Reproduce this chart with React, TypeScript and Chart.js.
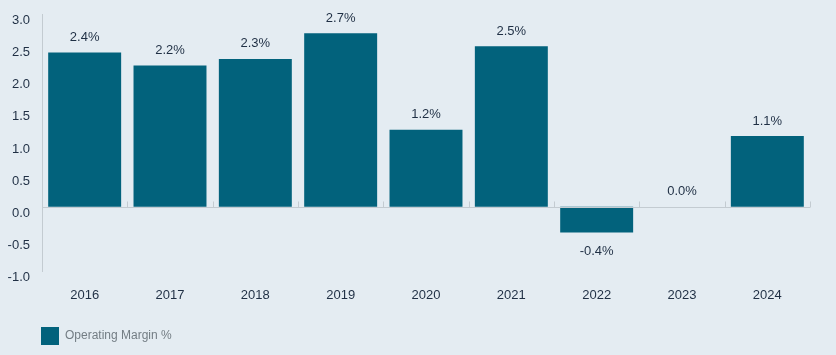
import React, { useEffect, useRef } from "react";
import { Chart, registerables } from "chart.js";

Chart.register(...registerables);

const categories = ["2016", "2017", "2018", "2019", "2020", "2021", "2022", "2023", "2024"];
const operatingMargin = [2.4, 2.2, 2.3, 2.7, 1.2, 2.5, -0.4, 0.0, 1.1];
const valueLabels = ["2.4%", "2.2%", "2.3%", "2.7%", "1.2%", "2.5%", "-0.4%", "0.0%", "1.1%"];
const seriesName = "Operating Margin %";
const yMin = -1;
const yMax = 3;
const yStep = 0.5;

const BG = "#e4ecf2";
const BAR = "#02627c";
const TEXT = "#1f2f44";
const AXIS = "#c3cbd1";
const FONT = "'Liberation Sans', Arial, sans-serif";

const bgPlugin = {
  id: "bg",
  beforeDraw(chart: any) {
    const { ctx, width, height } = chart;
    ctx.save();
    ctx.fillStyle = BG;
    ctx.fillRect(0, 0, width, height);
    ctx.restore();
  },
};

const zeroLinePlugin = {
  id: "zeroLine",
  afterDatasetsDraw(chart: any) {
    const { ctx, chartArea, scales } = chart;
    const y = Math.round(scales.y.getPixelForValue(0)) + 0.5;
    ctx.save();
    ctx.strokeStyle = AXIS;
    ctx.lineWidth = 1;
    ctx.beginPath();
    ctx.moveTo(chartArea.left, y);
    ctx.lineTo(chartArea.right, y);
    const n = categories.length;
    for (let i = 1; i <= n; i++) {
      const x = Math.round(chartArea.left + ((chartArea.right - chartArea.left) * i) / n) + 0.5;
      ctx.moveTo(x, y);
      ctx.lineTo(x, y - 6);
    }
    ctx.stroke();
    ctx.restore();
  },
};

const labelPlugin = {
  id: "valueLabels",
  afterDatasetsDraw(chart: any) {
    const { ctx } = chart;
    const meta = chart.getDatasetMeta(0);
    ctx.save();
    ctx.fillStyle = TEXT;
    ctx.font = `13px ${FONT}`;
    ctx.textAlign = "center";
    ctx.textBaseline = "alphabetic";
    meta.data.forEach((bar: any, i: number) => {
      const v = operatingMargin[i];
      if (v < 0) {
        ctx.fillText(valueLabels[i], bar.x, bar.y + 22.5);
      } else {
        ctx.fillText(valueLabels[i], bar.x, bar.y - 11.5);
      }
    });
    ctx.restore();
  },
};

export default function App() {
  const ref = useRef<HTMLCanvasElement>(null);
  useEffect(() => {
    document.body.style.margin = "0";
    document.body.style.background = BG;
    const chart = new Chart(ref.current!, {
      type: "bar",
      data: {
        labels: categories,
        datasets: [
          {
            label: seriesName,
            data: operatingMargin,
            backgroundColor: BAR,
            borderWidth: 0,
            barPercentage: 0.855,
            categoryPercentage: 1,
          },
        ],
      },
      options: {
        responsive: false,
        animation: false,
        layout: { padding: { left: 8, right: 26, top: 14, bottom: 0 } },
        plugins: {
          tooltip: { enabled: false },
          legend: {
            position: "bottom",
            align: "start",
            labels: {
              boxWidth: 18,
              boxHeight: 18,
              padding: 33,
              color: "#737d84",
              font: { family: FONT, size: 12 },
            },
          },
        },
        scales: {
          x: {
            grid: { display: false, drawTicks: false },
            border: { display: false },
            ticks: {
              color: TEXT,
              font: { family: FONT, size: 13 },
              padding: -32.5,
              mirror: true,
            },
            afterFit: (scale: any) => {
              scale.height = 23;
              scale.paddingLeft = 0;
              scale.paddingRight = 0;
            },
          },
          y: {
            min: yMin,
            max: yMax,
            grid: { display: false, drawTicks: false },
            border: { display: true, color: AXIS, width: 1 },
            ticks: {
              stepSize: yStep,
              color: TEXT,
              font: { family: FONT, size: 13 },
              padding: 12,
              labelOffset: 6.5,
              callback: (v: any) => Number(v).toFixed(1),
            },
            afterFit: (scale: any) => {
              scale.width = 34;
              scale.paddingTop = 0;
              scale.paddingBottom = 0;
            },
          },
        },
      },
      plugins: [bgPlugin, zeroLinePlugin, labelPlugin],
    });
    return () => chart.destroy();
  }, []);
  return <canvas ref={ref} width={836} height={355} style={{ display: "block" }} />;
}
